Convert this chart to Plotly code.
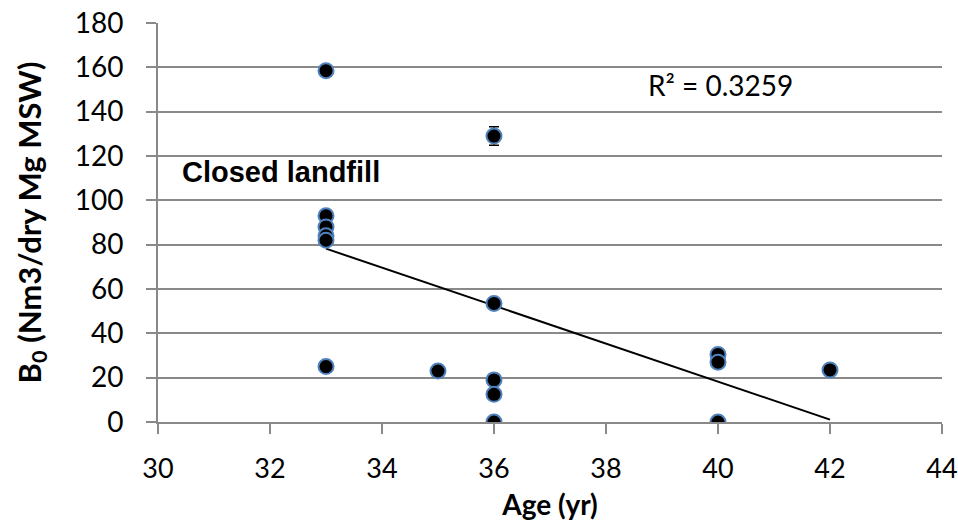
import numpy as np
import plotly.graph_objects as go

# Landfill age (yr) and methane potential B0 (Nm3/dry Mg MSW)
age = [33, 33, 33, 33, 33, 33, 35, 36, 36, 36, 36, 36, 40, 40, 40, 42]
bo = [158.5, 93, 88, 84, 82, 25, 23, 129, 53.5, 19, 12.5, 0, 30.5, 27, 0, 23.5]
bo_err = [0, 0, 0, 0, 0, 0, 0, 4.2, 0, 0, 0, 0, 0, 0, 0, 0]

x_ticks = [30, 32, 34, 36, 38, 40, 42, 44]
y_ticks = [0, 20, 40, 60, 80, 100, 120, 140, 160, 180]

r2_label = "R\u00b2 = 0.3259"
note_label = "Closed landfill"

# least-squares linear trend over the data
slope, intercept = np.polyfit(age, bo, 1)
trend_x = np.array([min(age), max(age)])
trend_y = slope * trend_x + intercept

grid_col = "#898989"
font_main = "Lato, Calibri, Carlito, sans-serif"

fig = go.Figure()

fig.add_trace(go.Scatter(
    x=trend_x, y=trend_y, mode="lines",
    line=dict(color="black", width=2),
    hoverinfo="skip", showlegend=False,
))

fig.add_trace(go.Scatter(
    x=age, y=bo, mode="markers",
    marker=dict(size=15, color="black", line=dict(color="#4F81BD", width=2)),
    error_y=dict(type="data", array=bo_err, visible=True, color="black",
                 thickness=1.5, width=5),
    showlegend=False,
))

fig.add_annotation(
    x=30.39, y=112.8, xref="x", yref="y", text=note_label, showarrow=False,
    xanchor="left", yanchor="middle",
    font=dict(family="Liberation Sans, Arial, sans-serif", size=29, color="black", weight="bold"),
)
fig.add_annotation(
    x=40.05, y=152, xref="x", yref="y", text=r2_label, showarrow=False,
    xanchor="center", yanchor="middle",
    font=dict(family=font_main, size=28, color="black"),
)

fig.update_layout(
    width=958, height=528,
    margin=dict(l=158, r=16, t=23, b=106),
    plot_bgcolor="white", paper_bgcolor="white",
    font=dict(family=font_main, size=28, color="black"),
)

fig.update_xaxes(
    range=[30, 44], tickvals=x_ticks, ticktext=[str(v) for v in x_ticks],
    tickfont=dict(family=font_main, size=27, color="black"),
    ticklabeloverflow="allow", automargin=False,
    showgrid=False, zeroline=False,
    showline=True, linecolor=grid_col, linewidth=2,
    ticks="outside", ticklen=10, tickwidth=2, tickcolor=grid_col,
    ticklabelstandoff=12,
    title=dict(text="<b>Age (yr)</b>", font=dict(family=font_main, size=28), standoff=12),
)
fig.update_yaxes(
    range=[0, 180], tickvals=y_ticks, ticktext=[str(v) for v in y_ticks],
    tickfont=dict(family=font_main, size=28, color="black"),
    ticklabeloverflow="allow", automargin=False,
    showgrid=True, gridcolor=grid_col, gridwidth=2, zeroline=False,
    showline=True, linecolor=grid_col, linewidth=2,
    ticks="outside", ticklen=10, tickwidth=2, tickcolor=grid_col,
    ticklabelstandoff=17,
    title=dict(text="<b>B<sub>0</sub> (Nm3/dry Mg MSW)</b>", font=dict(family=font_main, size=31), standoff=24),
)

fig.write_html("out.html")
